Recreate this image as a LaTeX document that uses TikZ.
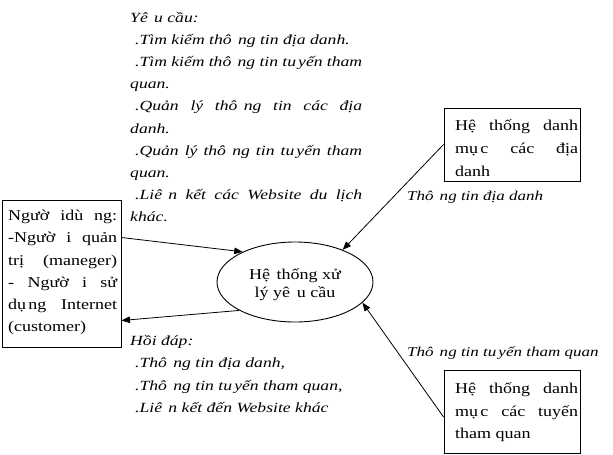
\documentclass[tikz,border=0pt]{standalone}
\usepackage{fontspec}
\setmainfont{Liberation Serif}[FakeStretch=1.2]
\newfontfamily\vitfont{Liberation Serif}[FakeStretch=1.26]
\usetikzlibrary{arrows.meta,shapes.geometric}
\newcommand{\vgap}{\hspace{0.45em}}
\newcommand{\vsm}{\hspace{0.15em}}
\begin{document}
\begin{tikzpicture}[x=1pt,y=-1pt,
  it/.style={anchor=base west, inner sep=0, font=\vitfont\fontsize{14}{16}\selectfont\itshape},
  lab/.style={anchor=base west, inner sep=0, font=\vitfont\fontsize{13.5}{16}\selectfont\itshape},
  up/.style={anchor=base west, inner sep=0, font=\fontsize{15}{17}\selectfont},
  boxn/.style={draw, line width=0.9pt, rectangle, inner sep=0},
  arr/.style={line width=0.8pt, -{Triangle[length=8.5pt,width=6.5pt]}}]
\useasboundingbox (0,0) rectangle (613,455);
% boxes
\node[boxn, minimum width=119pt, minimum height=147pt] (lb) at (61.5,273.5) {};
\node[boxn, minimum width=136pt, minimum height=73pt] (tr) at (512,144.5) {};
\node[boxn, minimum width=136pt, minimum height=83pt] (br) at (512,411.5) {};
\node[draw, ellipse, line width=0.9pt, inner sep=0, minimum width=156pt, minimum height=80pt] (el) at (295,282) {};
% ellipse text
\node[anchor=base, inner sep=0, font=\fontsize{15}{17}\selectfont] (e1) at (295,279) {Hệ\vgap thống xử};
\node[anchor=base, inner sep=0, font=\fontsize{15}{17}\selectfont] (e2) at (295,297) {lý yê\vgap u cầu};
% top text block
\node[it] (r1) at (130,22) {Yê\vgap u cầu:};
\node[it] (r2) at (135,44.2) {.Tìm kiếm thô\vgap ng tin địa danh.};
\node[it] (r3) at (135,66.4) {\makebox[227pt][s]{.Tìm kiếm thô\vgap ng tin tu\vsm yến tham}};
\node[it] (r4) at (130,88.6) {quan.};
\node[it] (r5) at (135,110.8) {\makebox[227pt][s]{.Quản lý thô\vgap ng tin các địa}};
\node[it] (r6) at (130,133) {danh.};
\node[it] (r7) at (135,155.2) {\makebox[227pt][s]{.Quản lý thô\vgap ng tin tu\vsm yến tham}};
\node[it] (r8) at (130,177.4) {quan.};
\node[it] (r9) at (135,199.6) {\makebox[227pt][s]{.Liê\vgap n kết các Website du lịch}};
\node[it] (r10) at (130,221.8) {khác.};
% answer block
\node[it] (h1) at (130,345) {Hồi đáp:};
\node[it] (h2) at (135,367.5) {.Thô\vgap ng tin địa danh,};
\node[it] (h3) at (135,390) {.Thô\vgap ng tin tu\vsm yến tham quan,};
\node[it] (h4) at (135,412.5) {.Liê\vgap n kết đến Website khác};
% left box text
\node[up] (l1) at (8,220.7) {\makebox[109pt][s]{Ngườ idù ng:}};
\node[up] (l2) at (8,242.9) {\makebox[109pt][s]{-Ngườ i quản}};
\node[up] (l3) at (8,265.1) {\makebox[109pt][s]{trị (maneger)}};
\node[up] (l4) at (8,287.3) {\makebox[109pt][s]{- Ngườ i sử}};
\node[up] (l5) at (8,309.5) {\makebox[109pt][s]{dụ\vsm ng Internet}};
\node[up] (l6) at (8,331.7) {(customer)};
% top right box text
\node[up] (t1) at (455,130) {\makebox[123pt][s]{Hệ thống danh}};
\node[up] (t2) at (455,153) {\makebox[123pt][s]{mụ\vsm c các địa}};
\node[up] (t3) at (455,176) {danh};
% bottom right box text
\node[up] (b1) at (455,393.3) {\makebox[123pt][s]{Hệ thống danh}};
\node[up] (b2) at (455,416) {\makebox[123pt][s]{mụ\vsm c các tuyến}};
\node[up] (b3) at (455,438.7) {tham quan};
% labels
\node[lab] (lab1) at (407,200.7) {Thô\vgap ng tin địa danh};
\node[lab] (lab2) at (407,356.7) {Thô\vgap ng tin tu\vsm yến tham quan};
% connectors
\coordinate (a1) at ([yshift=36pt]lb.east);
\coordinate (a2) at ([yshift=-47pt]lb.east);
\coordinate (a4) at ([yshift=-5.5pt]br.west);
\draw[arr] (a1) -- (el.150);
\draw[arr] (el.207) -- (a2);
\draw[arr] (tr.west) -- (el.34);
\draw[arr] (a4) -- (el.-17);
\end{tikzpicture}
\end{document}
